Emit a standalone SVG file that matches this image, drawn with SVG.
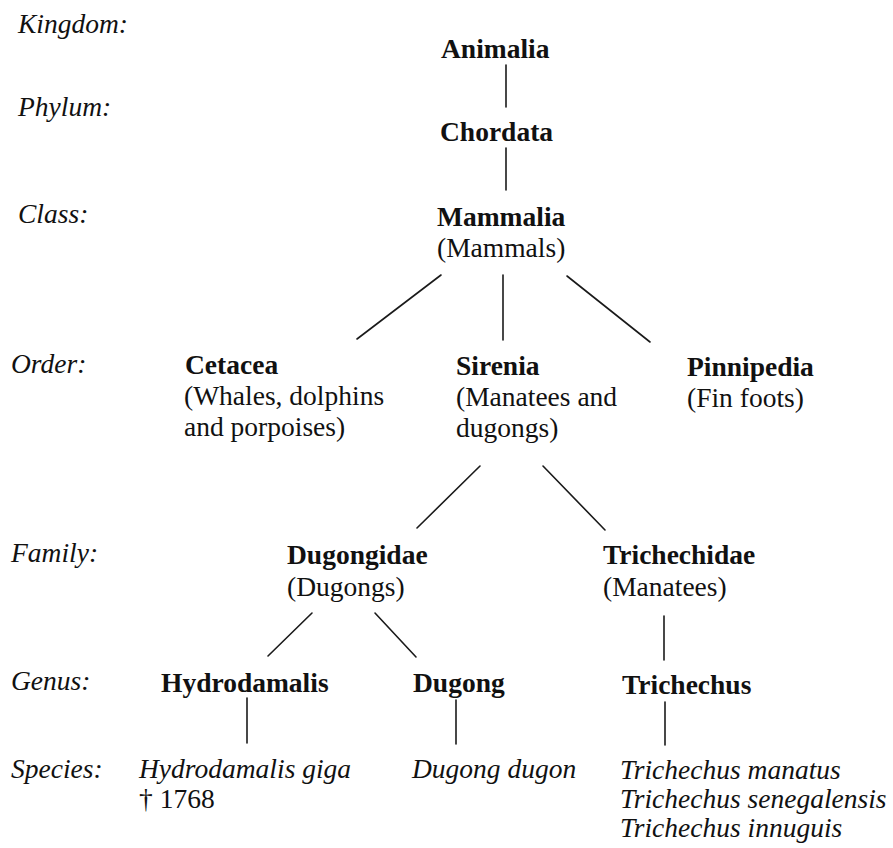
<svg xmlns="http://www.w3.org/2000/svg" width="893" height="848" viewBox="0 0 893 848">
<style>
text{font-family:"Liberation Serif","Times New Roman",serif;font-size:27.5px;fill:#111}
.r{font-style:italic}
.b{font-weight:bold}
.s{font-style:italic}
.c line{stroke:#1a1a1a;stroke-width:1.6;stroke-linecap:round}
</style>
<rect width="893" height="848" fill="#fff"/>
<g id="ranks">
<text class="r" x="18" y="33">Kingdom:</text>
<text class="r" x="18" y="116">Phylum:</text>
<text class="r" x="18" y="223">Class:</text>
<text class="r" x="11" y="373">Order:</text>
<text class="r" x="11" y="562">Family:</text>
<text class="r" x="11" y="690">Genus:</text>
<text class="r" x="11" y="778">Species:</text>
</g>
<g id="animalia"><text class="b" x="441" y="58">Animalia</text></g>
<g id="chordata"><text class="b" x="440" y="141">Chordata</text></g>
<g id="mammalia"><text class="b" x="437" y="226">Mammalia</text><text x="437" y="257">(Mammals)</text></g>
<g id="cetacea"><text class="b" x="185" y="374">Cetacea</text><text x="184" y="405">(Whales, dolphins</text><text x="184" y="436">and porpoises)</text></g>
<g id="sirenia"><text class="b" x="456" y="375">Sirenia</text><text x="456" y="406">(Manatees and</text><text x="456" y="437">dugongs)</text></g>
<g id="pinnipedia"><text class="b" x="687" y="376">Pinnipedia</text><text x="687" y="407">(Fin foots)</text></g>
<g id="dugongidae"><text class="b" x="287" y="564">Dugongidae</text><text x="287" y="596">(Dugongs)</text></g>
<g id="trichechidae"><text class="b" x="603" y="564">Trichechidae</text><text x="603" y="596">(Manatees)</text></g>
<g id="hydrodamalis"><text class="b" x="161" y="692">Hydrodamalis</text></g>
<g id="dugong"><text class="b" x="413" y="692">Dugong</text></g>
<g id="trichechus"><text class="b" x="622" y="694">Trichechus</text></g>
<g id="sp-hydrodamalis"><text class="s" x="139" y="778">Hydrodamalis giga</text><text x="139" y="808">† 1768</text></g>
<g id="sp-dugong"><text class="s" x="412" y="778">Dugong dugon</text></g>
<g id="sp-trichechus"><text class="s" x="620" y="779">Trichechus manatus</text><text class="s" x="620" y="808">Trichechus senegalensis</text><text class="s" x="620" y="837">Trichechus innuguis</text></g>
<g id="connectors" class="c">
<line x1="506" y1="65" x2="506" y2="107"/>
<line x1="506" y1="148" x2="506" y2="190"/>
<line x1="441" y1="275" x2="357" y2="339"/>
<line x1="503" y1="275" x2="503" y2="340"/>
<line x1="567" y1="276" x2="650" y2="342"/>
<line x1="480" y1="466" x2="417" y2="528"/>
<line x1="543" y1="466" x2="605" y2="530"/>
<line x1="312" y1="613" x2="268" y2="656"/>
<line x1="375" y1="613" x2="416" y2="657"/>
<line x1="664" y1="616" x2="664" y2="660"/>
<line x1="247" y1="698" x2="247" y2="743"/>
<line x1="456" y1="700" x2="456" y2="744"/>
<line x1="665" y1="702" x2="665" y2="745"/>
</g>
</svg>
